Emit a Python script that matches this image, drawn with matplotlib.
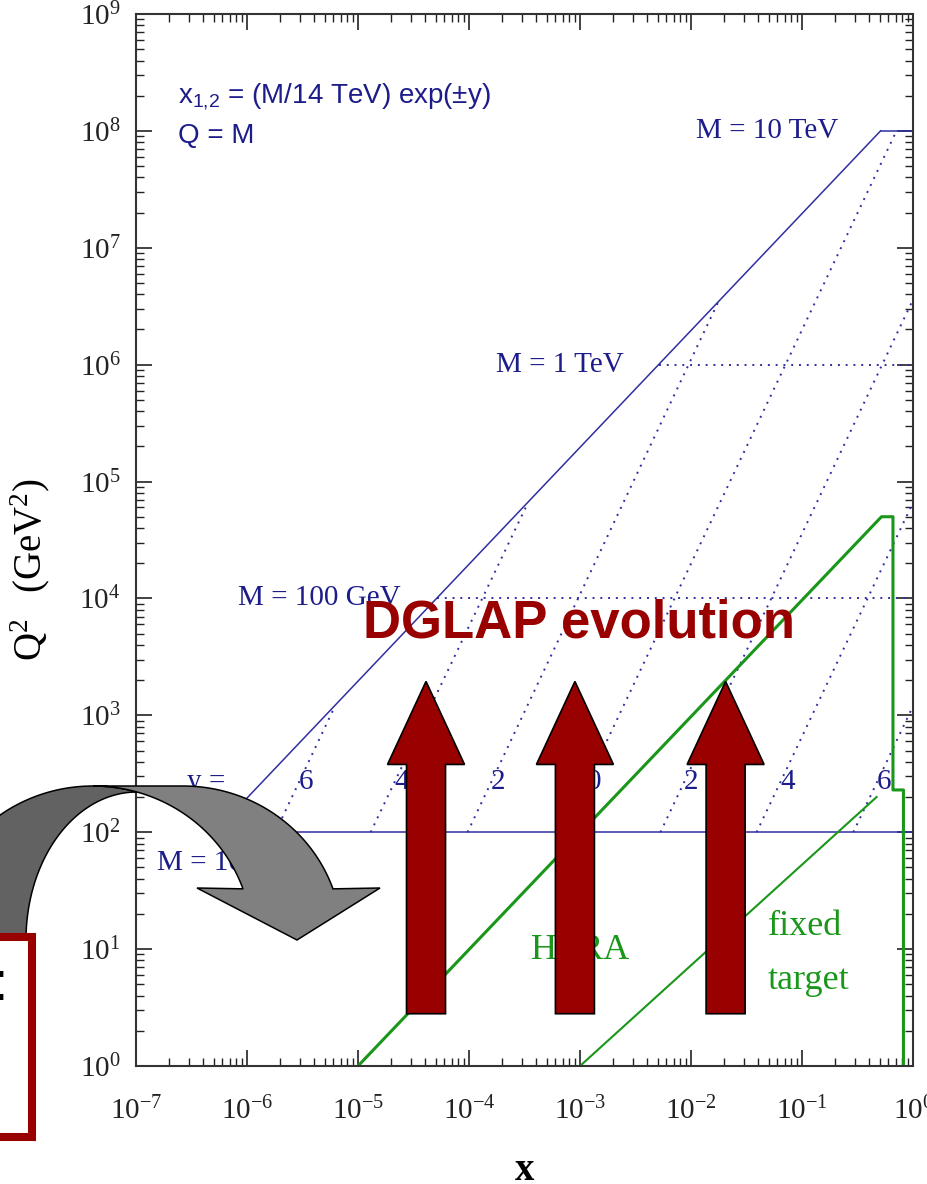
import numpy as np
import matplotlib.pyplot as plt
from matplotlib.patches import Polygon, Rectangle
from matplotlib.ticker import LogLocator, NullFormatter

plt.rcParams['font.family'] = ['Liberation Serif', 'DejaVu Serif']
plt.rcParams['axes.unicode_minus'] = False

W, H = 928, 1184

# LHC reach: Q = M, x1,2 = (M/14 TeV) exp(+-y)
mass_q2 = [1e2, 1e4, 1e6, 1e8]
mass_x_start = [5.1e-7, 5.1e-5, 5.1e-3, 5.1e-1]
mass_solid = [True, False, False, True]
mass_text = ['M = 10 GeV', 'M = 100 GeV', 'M = 1 TeV', 'M = 10 TeV']

# lines of constant rapidity
rap_labels = ['6', '4', '2', '0', '2', '4', '6']
rap_x_low = [1.8e-6, 1.3e-5, 9.7e-5, 7.1e-4, 5.3e-3, 3.9e-2, 2.9e-1]
rap_x_high = [6.2e-6, 3.4e-4, 1.8e-2, 7.1e-1, 1.0, 1.0, 1.0]
rap_q2_low = 1e2
rap_q2_high = [1.2e3, 6.6e4, 3.6e6, 1.0e8, 3.6e6, 6.6e4, 1.2e3]

# HERA and fixed target regions
hera_x = [1e-5, 0.52, 0.66, 0.66, 0.82, 0.82]
hera_q2 = [1.0, 5.0e4, 5.0e4, 230, 230, 1.0]
fixed_x = [1e-3, 0.47]
fixed_q2 = [1.0, 200]

# x positions of the evolution arrows
dglap_arrow_x = [4.1e-5, 9.0e-4, 2.05e-2]

blue = '#2f2fa0'
text_blue = '#1c1c8a'
green = '#1a961a'
dark_red = '#990000'

fig = plt.figure(figsize=(W / 100, H / 100), dpi=100)
ax = fig.add_axes([136 / W, 1 - 1066 / H, 777 / W, 1052 / H])
ax.set_xscale('log')
ax.set_yscale('log')
ax.set_xlim(1e-7, 1)
ax.set_ylim(1, 1e9)

# kinematic boundary and fixed-mass lines
ax.plot([mass_x_start[0], mass_x_start[-1]], [mass_q2[0], mass_q2[-1]],
        color=blue, lw=1.1)
for xs, q2, solid in zip(mass_x_start, mass_q2, mass_solid):
    ax.plot([xs, 1.0], [q2, q2], color=blue,
            lw=1.1 if solid else 1.4,
            ls='-' if solid else (0, (1, 3.0)))

for xl, xh, qh in zip(rap_x_low, rap_x_high, rap_q2_high):
    ax.plot([xl, xh], [rap_q2_low, qh], color=blue, lw=1.4, ls=(0, (1, 3.0)))

# rapidity labels sit just right of each line
q2_lab = 267
for lab, xl, xh, qh in zip(rap_labels, rap_x_low, rap_x_high, rap_q2_high):
    lx = np.interp(np.log10(q2_lab), [np.log10(rap_q2_low), np.log10(qh)],
                   [np.log10(xl), np.log10(xh)])
    ax.text(10 ** (lx + 0.065), q2_lab, lab, color=text_blue, fontsize=21,
            ha='center', va='center')
ax.text(2.9e-7, q2_lab, 'y =', color=text_blue, fontsize=21, ha='left', va='center')

ax.text(0.21, 1e8, mass_text[3], color=text_blue, fontsize=21, ha='right', va='center')
ax.text(2.5e-3, 1e6, mass_text[2], color=text_blue, fontsize=21, ha='right', va='center')
ax.text(8.3e-7, 1e4, mass_text[1], color=text_blue, fontsize=21, ha='left', va='center')
ax.text(1.55e-7, 55, mass_text[0], color=text_blue, fontsize=21, ha='left', va='center')

ax.text(2.4e-7, 1.74e8, r'$\mathdefault{x_{1{,}2}}$ = (M/14 TeV) exp(±y)',
        color=text_blue, fontsize=20, family='Liberation Sans', va='baseline')
ax.text(2.4e-7, 7.9e7, 'Q = M', color=text_blue, fontsize=20,
        family='Liberation Sans', va='baseline')

ax.plot(hera_x, hera_q2, color=green, lw=2.2)
ax.plot(fixed_x, fixed_q2, color=green, lw=1.5)
ax.text(1.0e-3, 9.8, 'HERA', color=green, fontsize=26, ha='center', va='center')
ax.text(0.049, 13.2, 'fixed', color=green, fontsize=26, ha='left', va='baseline')
ax.text(0.049, 4.6, 'target', color=green, fontsize=26, ha='left', va='baseline')

ax.text(1.1e-5, 4.6e3, 'DGLAP evolution', color=dark_red, fontsize=38,
        fontweight='bold', family='Liberation Sans', ha='left', va='baseline',
        zorder=10)

# axes styling
ax.set_xticks([10.0 ** k for k in range(-7, 1)])
ax.set_yticks([10.0 ** k for k in range(0, 10)])
for axis in (ax.xaxis, ax.yaxis):
    axis.set_minor_locator(LogLocator(base=10, subs=np.arange(2, 10), numticks=30))
    axis.set_minor_formatter(NullFormatter())
ax.tick_params(which='both', direction='in', top=True, right=True,
               labelsize=21, colors='#222222')
ax.tick_params(which='major', length=11.5, width=1.2)
ax.tick_params(which='minor', length=6, width=1.0)
ax.tick_params(axis='x', pad=22.5)
ax.tick_params(axis='y', pad=11)
for sp in ax.spines.values():
    sp.set_linewidth(1.5)
    sp.set_color('#333333')

ax.set_xlabel('x', fontsize=28, fontweight='bold', labelpad=19)
ax.set_ylabel(r'$\mathdefault{Q^2\ \ (GeV^2)}$', fontsize=28)
ax.yaxis.set_label_coords(-0.108, 0.4715)


def to_fig(pts):
    # pixel positions measured from the top-left corner -> figure fraction
    pts = np.asarray(pts, dtype=float)
    return np.column_stack([pts[:, 0] / W, 1 - pts[:, 1] / H])


def arc(cx, cy, a, b, t0, t1, n=80):
    t = np.radians(np.linspace(t0, t1, n))
    return np.column_stack([cx + a * np.cos(t), cy - b * np.sin(t)])


# upward block arrows, anchored on the data axes
disp_to_fig = fig.transFigure.inverted()
for xa in dglap_arrow_x:
    bx, by = ax.transData.transform((xa, 2.8))
    _, hy = ax.transData.transform((xa, 380))
    _, ty = ax.transData.transform((xa, 1950))
    shaft, head = 19.5, 38.5
    pts = [(bx - shaft, by), (bx + shaft, by), (bx + shaft, hy), (bx + head, hy),
           (bx, ty), (bx - head, hy), (bx - shaft, hy)]
    fig.add_artist(Polygon(disp_to_fig.transform(pts), closed=True,
                           facecolor=dark_red, edgecolor='black', lw=1.2,
                           transform=fig.transFigure, zorder=5))

# curved grey arrow
dark = np.vstack([arc(93, 940, 159, 154, 180, 73.6),
                  arc(137, 940, 111, 148, 89.5, 180)])
light = np.vstack([[[93, 786]],
                   arc(183, 940, 159, 154, 90, 19.4),
                   [[380, 888], [297, 940], [197, 888]],
                   arc(93, 940, 159, 154, 19.4, 90)])
fig.add_artist(Polygon(to_fig(dark), closed=True, facecolor='#626262',
                       edgecolor='black', lw=1.1, transform=fig.transFigure, zorder=6))
fig.add_artist(Polygon(to_fig(light), closed=True, facecolor='#808080',
                       edgecolor='black', lw=1.1, transform=fig.transFigure, zorder=6))

# framed note at the lower left
fig.add_artist(Rectangle((-400 / W, 1 - 1137 / H), 432 / W, 200 / H,
                         facecolor='white', edgecolor=dark_red, lw=5.8,
                         transform=fig.transFigure, zorder=7))
fig.text(8 / W, 1 - 1000 / H, ':', fontsize=40, family='Liberation Sans',
         ha='right', va='baseline', color='black', zorder=8)

fig.savefig('out.png', dpi=100, facecolor='white')
